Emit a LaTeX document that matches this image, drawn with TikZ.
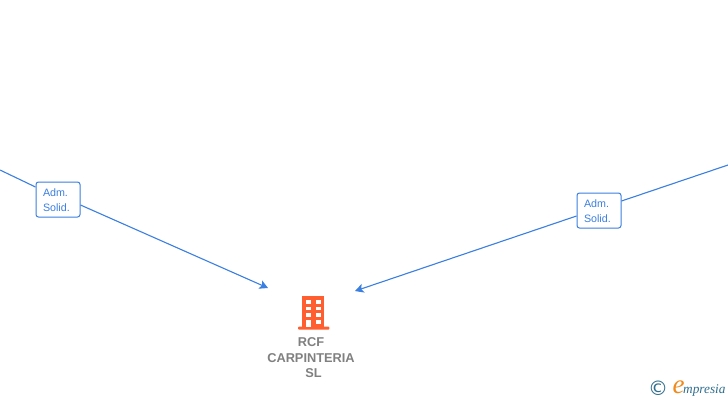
\documentclass[tikz,border=0pt]{standalone}
\usepackage{fontspec}
\setmainfont{Liberation Sans}
\newfontfamily\logofont{Liberation Serif}
\newfontfamily\copyfont{DejaVu Sans}
\usetikzlibrary{arrows.meta}
\definecolor{linkblue}{HTML}{3B7FE0}
\definecolor{iconorange}{HTML}{FF5F30}
\definecolor{labelgray}{HTML}{808080}
\definecolor{logoteal}{HTML}{2F6F8F}
\definecolor{logoorange}{HTML}{F08A1D}
\tikzset{
  x=1pt,y=-1pt,
  rolebox/.style={draw=linkblue,fill=white,rounded corners=2.5pt,line width=1pt,minimum width=44pt,minimum height=35pt,inner sep=0pt,text width=30pt,align=left,text=linkblue,font=\fontsize{10.7}{15}\selectfont},
  link/.style={draw=linkblue,line width=1.1pt},
  linkarrow/.style={link,-{Stealth[length=8.5pt,width=9pt,inset=2pt]}},
  company/.style={align=center,text=labelgray,font=\fontsize{12.8}{15.5}\selectfont\bfseries,inner sep=0pt},
  windowpane/.style={fill=white},
}
\begin{document}
\begin{tikzpicture}
\useasboundingbox (0,0) rectangle (728,400);
\fill[white] (0,0) rectangle (728,400);
\coordinate (leftstart) at (0,170);
\coordinate (rightstart) at (728,165);
\coordinate (lefttip) at (268,288);
\coordinate (righttip) at (355,291);
\node[rolebox] (adm1) at (58,199.5) {\rule{0pt}{9.6pt}Adm.\\Solid.};
\node[rolebox] (adm2) at (599,210.5) {\rule{0pt}{9.6pt}Adm.\\Solid.};
\draw[link] (leftstart) -- ([yshift=12.5pt]adm1.west);
\draw[link] (rightstart) -- ([yshift=9.5pt]adm2.east);
\draw[linkarrow] ([yshift=-5.5pt]adm1.east) -- (lefttip);
\draw[linkarrow] ([yshift=-5.5pt]adm2.west) -- (righttip);
% building icon
\fill[iconorange] (302.3,295.7) rectangle (324.3,328);
\fill[iconorange,rounded corners=0.8pt] (298,326.7) rectangle (329.3,329.5);
\foreach \yy in {300,306.5,313}{
  \fill[windowpane] (306,\yy) rectangle (310.6,\yy+3.8);
  \fill[windowpane] (316,\yy) rectangle (320.6,\yy+3.8);
}
\fill[windowpane] (306,320) rectangle (310.6,327);
\fill[windowpane] (316,320) rectangle (320.6,323.6);
\node[company] (rcf) at (311,357.7) {RCF\\CARPINTERIA\\\hspace*{5pt}SL};
% logo
\node[inner sep=0pt,text=logoteal,font=\copyfont\fontsize{20}{20}\selectfont] (copy) at (658,388.5) {©};
\node[inner sep=0pt,anchor=base west,text=logoorange,font=\logofont\itshape\fontsize{27}{27}\selectfont] (elogo) at (672.5,393) {e};
\node[inner sep=0pt,anchor=base west,text=logoteal,font=\logofont\itshape\fontsize{13.3}{14}\selectfont] (mpresia) at (683,393) {mpresia};
\end{tikzpicture}
\end{document}
